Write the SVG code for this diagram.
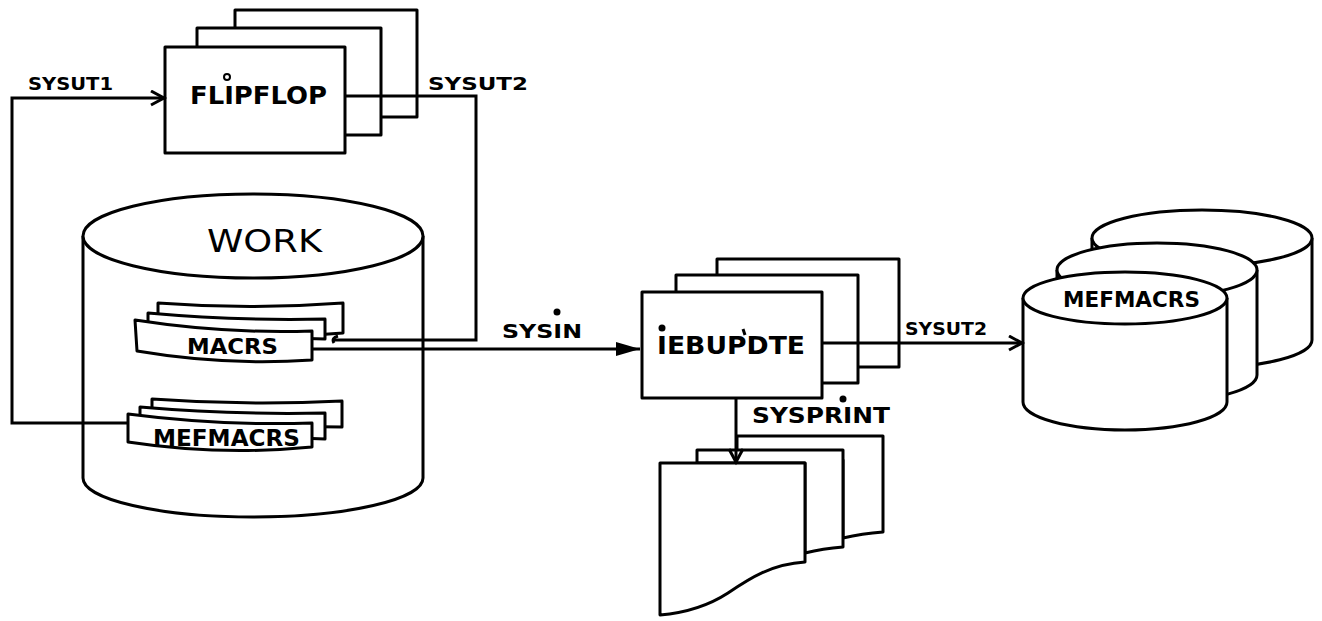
<svg xmlns="http://www.w3.org/2000/svg" width="1322" height="621" viewBox="0 0 1322 621">
<style>
.s{fill:#fff;stroke:#000;stroke-width:3;stroke-linejoin:round}
.n{fill:none;stroke:#000;stroke-width:3;stroke-linejoin:round}
.c{fill:none;stroke:#000;stroke-width:3}
.t{font-family:"DejaVu Sans","Liberation Sans",sans-serif;font-weight:bold;fill:#000}
.w{font-family:"DejaVu Sans","Liberation Sans",sans-serif;font-weight:normal;fill:#000}
.d{fill:#000}
</style>
<defs>
<marker id="open" markerUnits="userSpaceOnUse" markerWidth="20" markerHeight="20" refX="15" refY="8" orient="auto">
<path d="M2,1 L15,8 L2,15" fill="none" stroke="#000" stroke-width="3"/>
</marker>
<marker id="fill" markerUnits="userSpaceOnUse" markerWidth="26" markerHeight="20" refX="24" refY="8" orient="auto">
<path d="M0,1 L24,8 L0,15 Z" fill="#000"/>
</marker>
</defs>
<rect width="1322" height="621" fill="#fff"/>

<g id="flipflop">
<rect class="s" x="235" y="10" width="182" height="107"/>
<rect class="s" x="197" y="28" width="184" height="107"/>
<rect class="s" x="165" y="47" width="180" height="106"/>
<text class="t" x="190" y="104" font-size="25" textLength="137" lengthAdjust="spacingAndGlyphs">FLIPFLOP</text>
<circle cx="227" cy="77" r="3" fill="#fff" stroke="#000" stroke-width="2"/>
</g>

<g id="work">
<path class="s" d="M83,236 L83,478 A170,39 0 0 0 423,478 L423,236"/>
<ellipse class="s" cx="253" cy="236" rx="170" ry="42"/>
<text class="w" x="207" y="252" font-size="32" textLength="115" lengthAdjust="spacingAndGlyphs">WORK</text>
</g>

<g id="macrs">
<path class="s" d="M158,303 Q250,310 343,303 L343,333 L300,336 L158,330 Z"/>
<path class="s" d="M148,313 Q237,321 325,319 L325,339 L148,334 Z"/>
<path class="s" d="M135,320 Q225,334 312,331 L312,360 Q225,366 137,351 Z"/>
<text class="t" x="187" y="354" font-size="22" textLength="91" lengthAdjust="spacingAndGlyphs">MACRS</text>
</g>

<g id="mefmacrs-work">
<path class="s" d="M152,399 Q247,406 342,401 L342,427 L152,425 Z"/>
<path class="s" d="M140,407 Q232,415 325,413 L325,439 L140,432 Z"/>
<path class="s" d="M128,414 Q220,426 312,423 L312,447 Q220,456 128,442 Z"/>
<text class="t" x="153" y="446" font-size="23" textLength="147" lengthAdjust="spacingAndGlyphs">MEFMACRS</text>
</g>

<g id="iebupdte">
<rect class="s" x="717" y="259" width="182" height="108"/>
<rect class="s" x="676" y="275" width="182" height="108"/>
<rect class="s" x="642" y="292" width="180" height="106"/>
<text class="t" x="657" y="354" font-size="24" textLength="148" lengthAdjust="spacingAndGlyphs">IEBUPDTE</text>
<circle class="d" cx="662" cy="328" r="3.5"/>
<path class="c" d="M743,329 L745,335" stroke-width="2"/>
</g>

<g id="sysprint-output">
<path class="s" d="M737,436 L883,436 L883,532 C870,533 856,535 843,538 L843,460 L737,460 Z"/>
<path class="s" d="M697,463 L697,450 L843,450 L843,547 C830,548 817,550 805,553 L805,463 Z"/>
<path class="s" d="M660,463 L805,463 L805,562 C772,564 750,578 728,593 C708,606 684,613 660,615 Z"/>
</g>

<g id="mefmacrs-disk">
<path class="s" d="M1092,238 L1092,340 A110,28 0 0 0 1312,340 L1312,238"/>
<ellipse class="s" cx="1202" cy="238" rx="110" ry="28"/>
<path class="s" d="M1057,270 L1057,375 A100,27 0 0 0 1257,375 L1257,270"/>
<ellipse class="s" cx="1157" cy="270" rx="100" ry="27"/>
<path class="s" d="M1023,298 L1023,402 A102,28 0 0 0 1227,402 L1227,298"/>
<ellipse class="s" cx="1125" cy="298" rx="102" ry="26"/>
<text class="t" x="1063" y="307" font-size="21" textLength="137" lengthAdjust="spacingAndGlyphs">MEFMACRS</text>
</g>

<g id="connectors">
<path class="c" d="M128,423 L12,423 L12,98 L164,98" marker-end="url(#open)"/>
<path class="c" d="M345,96 L476,96 L476,340 L334,340"/>
<path class="c" d="M338,336 Q331,338 334,343" stroke-width="2.5"/>
<path class="c" d="M313,349 L640,349" marker-end="url(#fill)"/>
<path class="c" d="M822,343 L1022,343" marker-end="url(#open)"/>
<path class="c" d="M736,398 L736,462" marker-end="url(#open)"/>
</g>

<g id="labels">
<text class="t" x="28" y="90" font-size="17" textLength="85" lengthAdjust="spacingAndGlyphs">SYSUT1</text>
<text class="t" x="428" y="90" font-size="17" textLength="100" lengthAdjust="spacingAndGlyphs">SYSUT2</text>
<text class="t" x="502" y="338" font-size="20" textLength="80" lengthAdjust="spacingAndGlyphs">SYSIN</text>
<circle class="d" cx="557" cy="312" r="3.5"/>
<text class="t" x="905" y="335" font-size="18" textLength="82" lengthAdjust="spacingAndGlyphs">SYSUT2</text>
<text class="t" x="752" y="423" font-size="21" textLength="138" lengthAdjust="spacingAndGlyphs">SYSPRINT</text>
<circle class="d" cx="843" cy="399" r="3.5"/>
</g>
</svg>
